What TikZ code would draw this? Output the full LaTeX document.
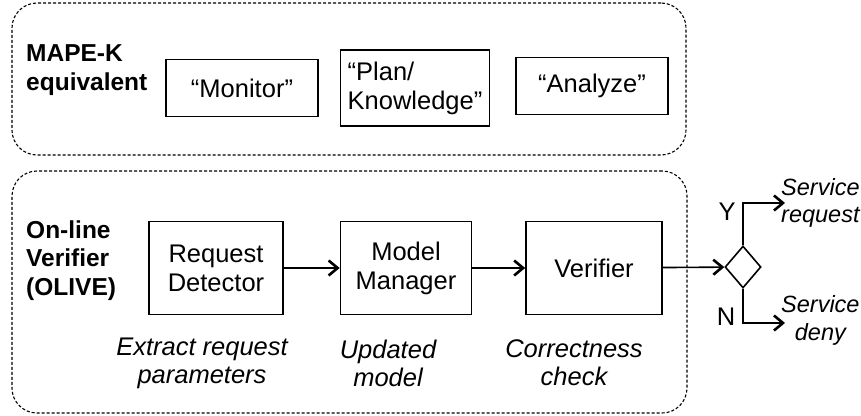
\documentclass[tikz,border=0pt]{standalone}
\usepackage{fontspec}
\setmainfont{Liberation Sans}
\usetikzlibrary{positioning,arrows.meta,calc,shapes.geometric}

\begin{document}
\begin{tikzpicture}[x=1pt, y=-1pt,
  font=\fontsize{25.5}{29}\selectfont,
  group/.style={draw, dashed, dash pattern=on 3pt off 2pt, line width=1.1pt, rounded corners=25pt, inner sep=0pt},
  stage/.style={draw, line width=1.7pt, align=center, inner sep=0pt},
  grouplbl/.style={anchor=west, align=left, font=\fontsize{24.5}{28.5}\selectfont\bfseries, inner sep=0pt},
  note/.style={align=center, font=\fontsize{25.5}{28}\selectfont\itshape, inner sep=0pt},
  flow/.style={line width=1.6pt, -{Straight Barb[length=9pt, width=15pt, line width=2.6pt]}}]
% pixel grid of the 861x415 figure; y grows downwards
\useasboundingbox (0,0) rectangle (861,415);
\def\bh{93}
% upper frame: MAPE-K counterparts
\node[group, minimum width=674, minimum height=152] (mapek) at (349,79) {};
\node[grouplbl] (mapelbl) at (26,70) {MAPE-K\\equivalent};
\node[stage, minimum width=152, minimum height=57] (monitor) at (242,88) {“Monitor”};
\node[stage, minimum width=149, minimum height=76, align=left] (plan) at (415,88) {“Plan/\\Knowledge”};
\node[stage, minimum width=152, minimum height=57] (analyze) at (592,86) {“Analyze”};
% lower frame: OLIVE pipeline
\node[group, minimum width=675, minimum height=242] (olive) at (349.5,292) {};
\node[grouplbl] (olivelbl) at (26,260.5) {On-line\\Verifier\\(OLIVE)};
\node[stage, minimum width=134, minimum height=\bh] (detector) at (216,268) {Request\\Detector};
\node[stage, minimum width=131, minimum height=\bh] (manager) at (406,268) {Model\\Manager};
\node[stage, minimum width=136, minimum height=\bh] (verifier) at (594,268) {Verifier};
\node[note] (extract) at (202,363) {Extract request\\parameters};
\node[note] (updated) at (388,363) {Updated\\model};
\node[note] (check) at (574,363) {Correctness\\check};
\draw[flow] (detector) -- (manager);
\draw[flow] (manager) -- (verifier);
% decision
\node[diamond, draw, line width=1.6pt, inner sep=0pt, aspect=0.857, minimum width=36, minimum height=42] (decide) at (743,267) {};
\draw[flow] (verifier) -- (decide);
\coordinate (yes) at (785,203);
\coordinate (no) at (785,323);
\draw[flow] (decide.north) |- (yes);
\draw[flow] (decide.south) |- (no);
\node[inner sep=0pt] (ylbl) at (727,212) {Y};
\node[inner sep=0pt] (nlbl) at (726,317) {N};
\node[note, anchor=west, font=\fontsize{23.5}{27.5}\selectfont\itshape] (grant) at (781,203) {Service\\request};
\node[note, anchor=west, font=\fontsize{23.5}{27.5}\selectfont\itshape] (deny) at (781,320.5) {Service\\deny};
\end{tikzpicture}
\end{document}
